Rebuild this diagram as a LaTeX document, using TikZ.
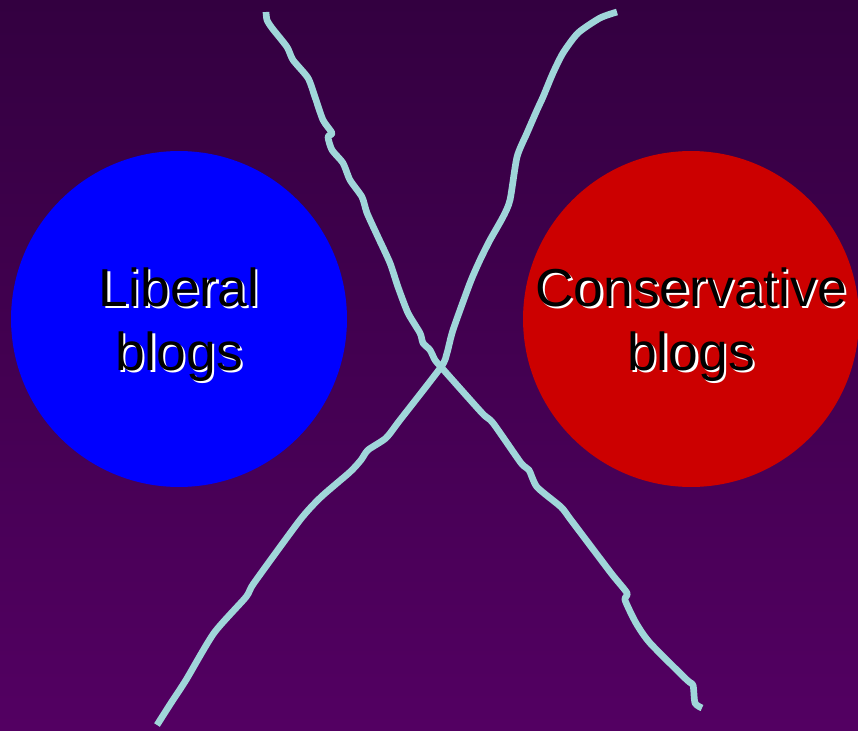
\documentclass[tikz,border=0pt]{standalone}
\usepackage{fontspec}
\setmainfont{Liberation Sans}
\usepackage{tikz}
\usetikzlibrary{positioning}
\definecolor{bgtop}{RGB}{51,0,64}
\definecolor{bgbottom}{RGB}{83,0,98}
\definecolor{libblue}{RGB}{0,0,255}
\definecolor{conred}{RGB}{204,0,0}
\definecolor{chalk}{RGB}{160,214,218}
\tikzstyle{blob} = [circle, draw=none, inner sep=0pt, minimum size=6.72cm]
\tikzstyle{stroke} = [draw=chalk, line width=3.8pt, line join=round]
\tikzset{
	blogtext/.style={text centered, align=center, inner sep=0pt,
		font=\fontsize{30.4}{36.4}\selectfont},
}

\begin{document}
\begin{tikzpicture}[x=0.02cm, y=-0.02cm]

\shade [top color=bgtop, bottom color=bgbottom] (0,0) rectangle (858,730);
\useasboundingbox (0,0) rectangle (858,730);

\node [blob, fill=libblue] at (179,319) (lib) {};
\node [blob, fill=conred] at (691,319) (con) {};

	%shadow first, then the text
\node [blogtext, text=white] at ([shift={(1.3pt,-4.3pt)}]lib.center) (libshadow) {Liberal\\blogs};
\node [blogtext] at ([shift={(0pt,-3pt)}]lib.center) (libtext) {Liberal\\blogs};
\node [blogtext, text=white] at ([shift={(1.3pt,-4.3pt)}]con.center) (conshadow) {Conservative\\blogs};
\node [blogtext] at ([shift={(0pt,-3pt)}]con.center) (context) {Conservative\\blogs};

	%the two crossing strokes
\draw [stroke] plot [smooth, tension=0.4] coordinates {(266,12) (267,20) (272,28) (287,47)
	(293,60) (308,78) (315,97) (323,120) (332,133) (328,137) (332,150) (343,163) (350,180)
	(362,197) (367,213) (378,237) (390,263) (398,287) (408,313) (420,333) (423,343) (430,350)
	(435,360) (441,367) (482,413) (493,423) (521,463) (529,470) (537,487) (561,507) (571,520)
	(611,573) (627,593) (625,600) (636,623) (650,643) (687,680) (693,685) (695,703) (702,708)};
\draw [stroke] plot [smooth, tension=0.4] coordinates {(617,12) (600,18) (578,33) (563,53)
	(553,73) (543,97) (537,110) (527,133) (517,157) (510,200) (503,217) (490,240) (480,260)
	(470,283) (453,330) (447,353) (441,367) (400,420) (386,438) (368,450) (361,460) (350,472)
	(321,497) (300,520) (254,583) (246,597) (214,633) (186,680) (171,703) (157,725)};

\end{tikzpicture}
\end{document}
